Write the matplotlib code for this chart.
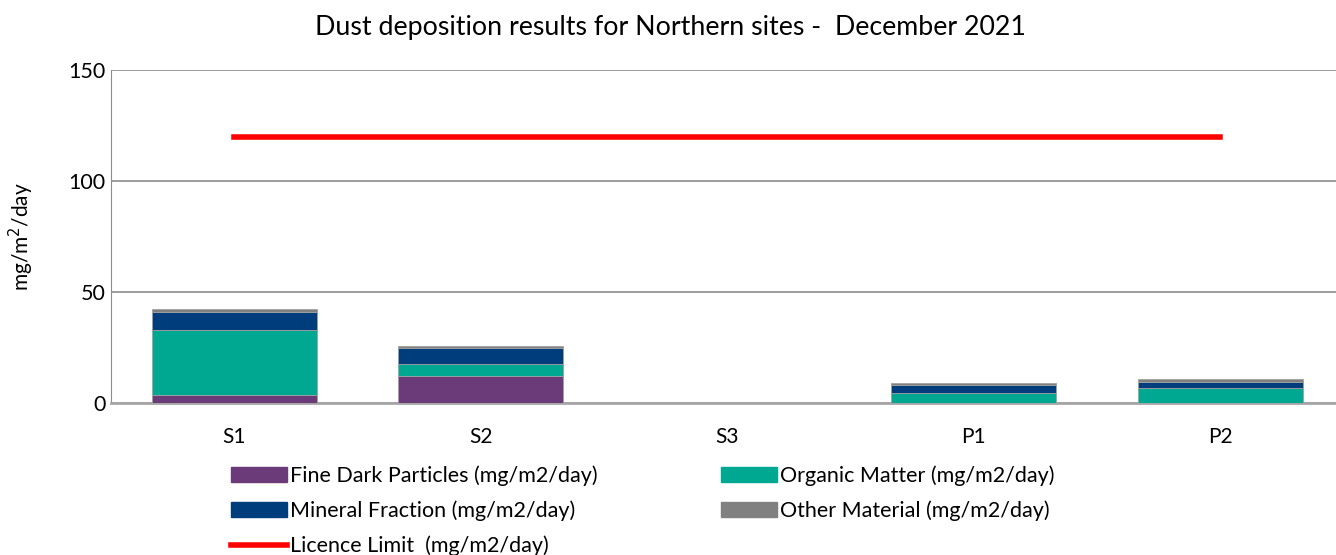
import numpy as np
import matplotlib.pyplot as plt
from matplotlib.patches import Patch
from matplotlib.lines import Line2D

plt.rcParams['font.family'] = ['Lato', 'DejaVu Sans']

sitios = ["S1", "S2", "S3", "P1", "P2"]
fine_dark = [3.6, 12.3, 0.0, 0.0, 0.0]
organic = [29.3, 5.3, 0.0, 4.6, 6.8]
mineral = [7.9, 7.3, 0.0, 3.6, 2.8]
other = [1.4, 0.9, 0.0, 0.9, 1.2]
licence = [120, 120, 120, 120, 120]

C_FINE = "#6b3a78"
C_ORG = "#00a891"
C_MIN = "#003d7c"
C_OTH = "#808080"
C_LIM = "#ff0000"

fig = plt.figure(figsize=(13.36, 5.55), dpi=100)
ax = fig.add_axes([111 / 1336, 1 - 403 / 555, (1343.5 - 111) / 1336, (403 - 70) / 555])

x = np.arange(len(sitios))
w = 0.67
base = np.zeros(len(sitios))
for vals, col in [(fine_dark, C_FINE), (organic, C_ORG), (mineral, C_MIN), (other, C_OTH)]:
    ax.bar(x, vals, w, bottom=base, color=col, edgecolor="#a0a0a0", linewidth=0.6, zorder=3)
    base = base + np.array(vals)

ax.plot(x, licence, color=C_LIM, linewidth=4, zorder=4)

ax.set_xlim(-0.5, 4.5)
ax.set_ylim(0, 150)
ax.set_yticks([0, 50, 100, 150])
ax.set_xticks(x)
ax.set_xticklabels(sitios)
ax.tick_params(axis="x", length=0, labelsize=15, pad=17)
ax.tick_params(axis="y", length=0, labelsize=15.5, pad=4)
ax.yaxis.grid(True, color="#8c8c8c", linewidth=1.2, zorder=0)
ax.set_axisbelow(True)
for s in ["top", "right"]:
    ax.spines[s].set_visible(False)
ax.spines["left"].set_color("#8c8c8c")
ax.spines["bottom"].set_color("#a6a6a6")
ax.spines["bottom"].set_linewidth(2)
ax.set_ylabel("mg/m$^2$/day", fontsize=15, labelpad=23)

fig.text(670 / 1336, 1 - 28 / 555, "Dust deposition results for Northern sites -  December 2021",
         ha="center", va="center", fontsize=19.3)

handles = [Patch(color=C_FINE), Patch(color=C_MIN),
           Line2D([0], [0], color=C_LIM, linewidth=4),
           Patch(color=C_ORG), Patch(color=C_OTH)]
labels = ["Fine Dark Particles (mg/m2/day)", "Mineral Fraction (mg/m2/day)",
          "Licence Limit  (mg/m2/day)", "Organic Matter (mg/m2/day)",
          "Other Material (mg/m2/day)"]
fig.legend(handles, labels, ncol=2, loc="upper left",
           bbox_to_anchor=(231 / 1336, 1 - 465 / 555), frameon=False,
           fontsize=15.5, handlelength=2.6, handleheight=0.7, handletextpad=0.15,
           columnspacing=5.7, labelspacing=0.68, borderaxespad=0, borderpad=0)

fig.savefig("out.png", dpi=100)
